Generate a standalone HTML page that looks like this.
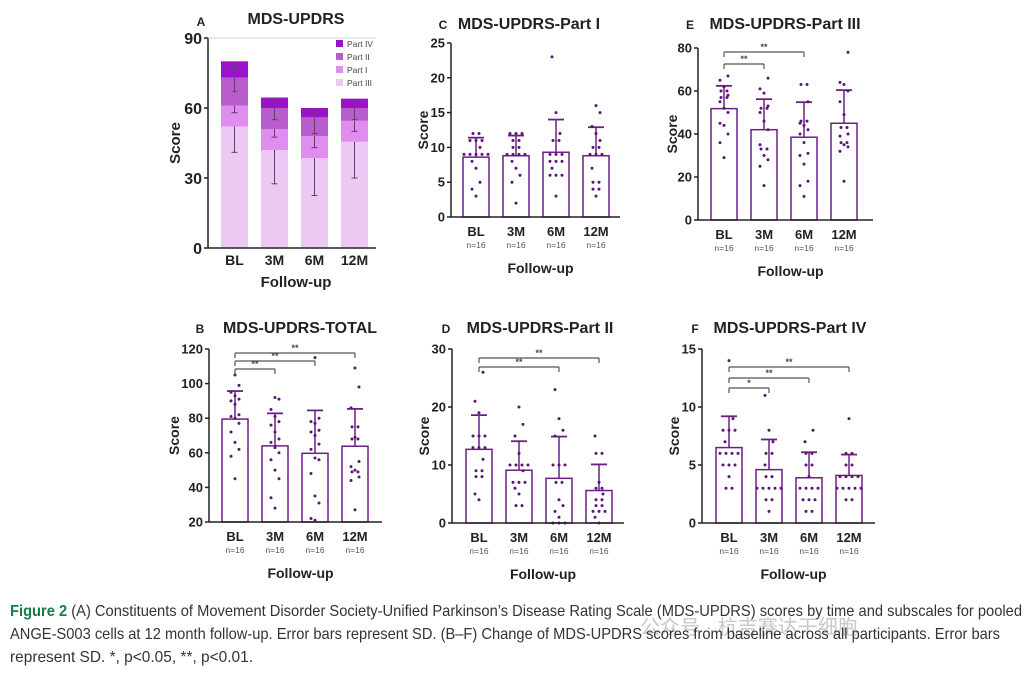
<!DOCTYPE html>
<html><head><meta charset="utf-8"><style>
html,body{margin:0;padding:0;background:#fff}
svg{display:block}
text{font-family:"Liberation Sans",sans-serif}
</style></head><body>
<svg id="s" width="1033" height="676" xmlns="http://www.w3.org/2000/svg"></svg>
<script>
const S=document.getElementById('s');let h='';
const P='#6b1f86',E='#4a1560';
function t(x,y,s,o){o=o||{};h+=`<text x="${x}" y="${y}" font-size="${o.fs||13}" font-weight="${o.w||'bold'}" fill="${o.c||'#222'}" text-anchor="${o.a||'middle'}"${o.tr?` transform="${o.tr}"`:''}${o.tl?` textLength="${o.tl}" lengthAdjust="spacingAndGlyphs"`:''}>${s}</text>`;}
function l(x1,y1,x2,y2,c,w){h+=`<line x1="${x1}" y1="${y1}" x2="${x2}" y2="${y2}" stroke="${c||'#222'}" stroke-width="${w||1.5}"/>`;}
function panel(p){
 const Y=v=>p.yb-(v-p.vmin)/(p.vmax-p.vmin)*(p.yb-p.yt);
 const cats=['BL','3M','6M','12M'];
 p.bars.forEach((b,i)=>{
  const x0=p.bx[i],cx=x0+13;
  h+=`<rect x="${x0}" y="${Y(b[0])}" width="26" height="${p.yb-Y(b[0])}" fill="#fff" stroke="${P}" stroke-width="1.5"/>`;
  l(cx,Y(b[0]),cx,Y(b[1]),P,1.5);l(cx-8,Y(b[1]),cx+8,Y(b[1]),P,1.8);
  const g={};b[2].forEach(v=>{g[v]=(g[v]||0)+1});
  let si=0;
  Object.keys(g).forEach(v=>{const n=g[v];for(let k=0;k<n;k++){let dx=(k-(n-1)/2)*6;if(n==1){dx=[0,-4,4][si%3];si++;}h+=`<circle cx="${cx+dx}" cy="${Y(+v)}" r="1.5" fill="#5a1575"/>`;}});
  t(cx,p.yb+19,cats[i],{fs:13});
  t(cx,p.yb+31,'n=16',{fs:8.5,w:'normal',c:'#555'});
 });
 l(p.ax,p.yt,p.ax,p.yb);l(p.ax,p.yb,p.xe,p.yb);
 p.ticks.forEach(v=>{l(p.ax-4,Y(v),p.ax,Y(v));t(p.ax-6,Y(v)+4.5,v,{fs:13,a:'end'});});
 t(p.sx,(p.yt+p.yb)/2,'Score',{fs:14,tr:`rotate(-90 ${p.sx} ${(p.yt+p.yb)/2})`});
 t((p.ax+p.xe)/2+5,p.yb+56,'Follow-up',{fs:14});
 t(p.lx,p.ty,p.L,{fs:12});t(p.tx,p.ty,p.T,{fs:16});
 (p.br||[]).forEach(b=>{const x1=p.bx[0]+13,x2=p.bx[b[0]]+13;l(x1,b[1]+5,x1,b[1],'#555',1.2);l(x1,b[1],x2,b[1],'#555',1.2);l(x2,b[1],x2,b[1]+5,'#555',1.2);t((x1+x2)/2,b[1]-2,b[2],{fs:9,c:'#444'});});
}
// A
(function(){
 const yb=248,yt=38,Y=v=>yb-v*(yb-yt)/90;
 const st=[[52,61,73,80],[42,51,60,64.5],[38.5,48,56,60],[45.5,54.5,60,64]];
 const er=[[41,58,67,77],[27.5,47.5,55,62],[22.5,43,49,58],[30,50,55,62]];
 const cols=['#ecc9f3','#e08df0','#b95ccd','#9b12c9'];const bx=[221,261,301,341];
 st.forEach((s,i)=>{let prev=0;s.forEach((v,j)=>{h+=`<rect x="${bx[i]}" y="${Y(v)}" width="27" height="${Y(prev)-Y(v)}" fill="${cols[j]}"/>`;prev=v;});
  s.forEach((v,j)=>{const cx=bx[i]+13.5;l(cx,Y(v),cx,Y(er[i][j]),'#6a3b6e',1);l(cx-3,Y(er[i][j]),cx+3,Y(er[i][j]),'#6a3b6e',1);});});
 l(208,yt,208,yb);l(208,yb,376,yb);l(208,yt,376,yt,'#bbb',0.8);
 [0,30,60,90].forEach(v=>{l(204,Y(v),208,Y(v));t(202,Y(v)+6,v,{fs:16,a:'end'});});
 t(180,143,'Score',{fs:15,tr:'rotate(-90 180 143)'});
 ['BL','3M','6M','12M'].forEach((c,i)=>t(bx[i]+13.5,265,c,{fs:14}));
 t(296,287,'Follow-up',{fs:15});t(201,26,'A',{fs:12});t(296,24,'MDS-UPDRS',{fs:16});
 [['Part IV',cols[3]],['Part II',cols[2]],['Part I',cols[1]],['Part III',cols[0]]].forEach((e,i)=>{const y=40+i*13;h+=`<rect x="336" y="${y}" width="7" height="7" fill="${e[1]}"/>`;t(347,y+7,e[0],{fs:8.5,w:'normal',c:'#444',a:'start'});});
})();
panel({L:'C',T:'MDS-UPDRS-Part I',lx:443,tx:529,ty:29,ax:451,xe:620,yt:43,yb:217,vmin:0,vmax:25,ticks:[0,5,10,15,20,25],sx:428,bx:[463,503,543,583],
 bars:[[8.6,11.4,[12,12,11,11,11,10,9,9,9,9,8,7,5,4,3,9]],[8.8,11.7,[12,12,12,11,11,10,9,9,9,8,7,6,5,2,9,10]],[9.3,14,[23,15,12,11,11,9,9,8,8,8,7,6,6,6,3,9]],[8.8,12.9,[16,15,13,11,10,10,9,9,7,5,5,4,4,3,9,12]]]});
panel({L:'E',T:'MDS-UPDRS-Part III',lx:690,tx:785,ty:29,ax:698,xe:873,yt:48,yb:220,vmin:0,vmax:80,ticks:[0,20,40,60,80],sx:677,bx:[711,751,791,831],
 bars:[[51.8,62.4,[67,65,62,60,58,57,57,55,52,50,45,44,40,36,29,60]],[42,56.2,[66,61,59,53,52,50,46,42,35,33,33,30,28,25,16,52]],[38.5,54.8,[63,63,55,46,45,44,42,40,36,31,30,26,18,16,11,46]],[45,60.4,[78,64,63,60,55,49,43,43,40,39,36,36,34,32,18,35]]],
 br:[[1,64,'**'],[2,52,'**']]});
panel({L:'B',T:'MDS-UPDRS-TOTAL',lx:200,tx:300,ty:333,ax:209,xe:382,yt:349,yb:522,vmin:20,vmax:120,ticks:[20,40,60,80,100,120],sx:179,bx:[222,262,302,342],
 bars:[[79.5,95.7,[105,99,95,93,91,90,82,81,80,77,72,66,62,58,45,88]],[64,82.8,[92,91,85,81,78,76,72,68,66,63,60,56,50,45,34,28]],[59.7,84.5,[115,80,78,77,73,72,70,62,57,56,48,35,31,22,21,65]],[63.8,85.4,[109,98,86,75,75,69,68,68,55,52,50,49,49,46,44,27]]],
 br:[[1,369,'**'],[2,361,'**'],[3,353,'**']]});
panel({L:'D',T:'MDS-UPDRS-Part II',lx:446,tx:540,ty:333,ax:452,xe:624,yt:349,yb:523,vmin:0,vmax:30,ticks:[0,10,20,30],sx:429,bx:[466,506,546,586],
 bars:[[12.7,18.6,[26,21,19,15,15,15,13,13,11,9,9,8,8,5,4,13]],[9.1,14.1,[20,17,15,12,10,10,10,9,7,7,7,6,5,3,3,10]],[7.7,14.9,[23,18,16,15,10,10,7,7,4,3,2,1,0,0,0,10]],[5.6,10.1,[15,12,12,7,6,6,4,4,3,3,2,2,2,1,0,5]]],
 br:[[2,367,'**'],[3,358,'**']]});
panel({L:'F',T:'MDS-UPDRS-Part IV',lx:695,tx:790,ty:333,ax:702,xe:875,yt:349,yb:523,vmin:0,vmax:15,ticks:[0,5,10,15],sx:679,bx:[716,756,796,836],
 bars:[[6.5,9.2,[14,9,8,8,8,7,6,6,6,6,5,5,5,4,3,3]],[4.6,7.2,[11,8,7,6,6,5,4,4,3,3,3,3,2,2,1,3]],[3.9,6.1,[8,7,6,6,5,5,4,3,3,3,2,2,2,1,1,3]],[4.1,5.9,[9,6,6,5,5,4,4,4,3,3,3,3,3,2,2,4]]],
 br:[[1,388,'*'],[2,378,'**'],[3,367,'**']]});
// caption
h+=`<text x="10" y="616" font-size="16" fill="#333" textLength="1012" lengthAdjust="spacingAndGlyphs"><tspan font-weight="bold" fill="#1a7a4a">Figure 2</tspan>    (A) Constituents of Movement Disorder Society-Unified Parkinson’s Disease Rating Scale (MDS-UPDRS) scores by time and subscales for pooled</text>`;
t(640,634,'公众号 · 杭吉赛达干细胞',{fs:20,w:'normal',c:'#c8c8c8',a:'start'});
t(10,639,'ANGE-S003 cells at 12 month follow-up. Error bars represent SD. (B–F) Change of MDS-UPDRS scores from baseline across all participants. Error bars',{fs:16,w:'normal',c:'#333',a:'start',tl:990});
t(10,662,'represent SD. *, p&lt;0.05, **, p&lt;0.01.',{fs:16,w:'normal',c:'#333',a:'start',tl:243});
S.innerHTML=h;
</script>
</body></html>
